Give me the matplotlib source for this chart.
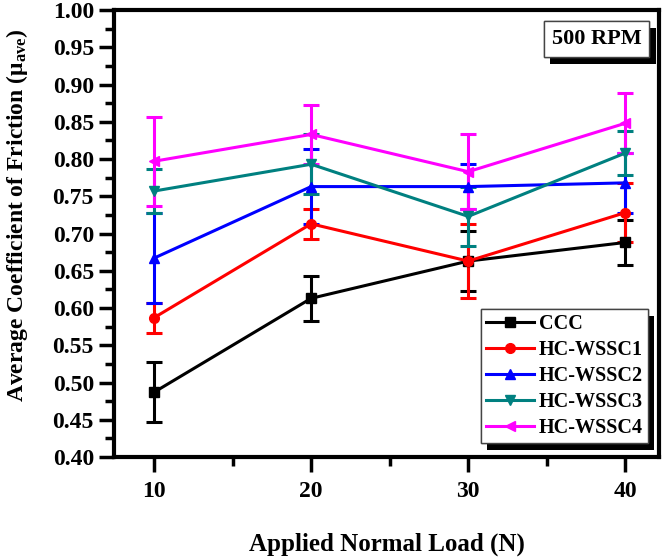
import matplotlib
matplotlib.use("Agg")
import matplotlib.pyplot as plt
import matplotlib.patheffects as pe
from matplotlib.ticker import MultipleLocator, FormatStrFormatter

plt.rcParams["font.family"] = ["Liberation Serif", "DejaVu Serif"]
plt.rcParams["font.weight"] = "bold"
plt.rcParams["mathtext.fontset"] = "custom"
plt.rcParams["mathtext.rm"] = "Liberation Serif:bold"
plt.rcParams["mathtext.it"] = "Liberation Serif:bold"

loads = [10, 20, 30, 40]
labels = ["CCC", "HC-WSSC1", "HC-WSSC2", "HC-WSSC3", "HC-WSSC4"]
ccc = [0.487, 0.613, 0.663, 0.688]
ccc_err = [0.040, 0.030, 0.040, 0.030]
wssc1 = [0.587, 0.713, 0.663, 0.728]
wssc1_err = [0.020, 0.020, 0.050, 0.040]
wssc2 = [0.667, 0.763, 0.763, 0.768]
wssc2_err = [0.060, 0.050, 0.030, 0.040]
wssc3 = [0.757, 0.793, 0.723, 0.808]
wssc3_err = [0.030, 0.040, 0.040, 0.030]
wssc4 = [0.797, 0.833, 0.783, 0.848]
wssc4_err = [0.060, 0.040, 0.050, 0.040]

series = [ccc, wssc1, wssc2, wssc3, wssc4]
errors = [ccc_err, wssc1_err, wssc2_err, wssc3_err, wssc4_err]
colors = ["black", "red", "blue", "#008080", "magenta"]
markers = ["s", "o", "^", "v", "<"]

fig = plt.figure(figsize=(6.68, 5.57), dpi=100)
ax = fig.add_axes([0.1707, 0.1795, 0.8159, 0.8025])

handles = []
for y, e, c, m, lab in zip(series, errors, colors, markers, labels):
    cont = ax.errorbar(loads, y, yerr=e, color=c, marker=m, markersize=7,
                       linewidth=2.2, elinewidth=2.2, capsize=6, capthick=2.2,
                       label=lab)
    handles.append(cont.lines[0])

ax.set_xlim(7.45, 42.15)
ax.set_ylim(0.40, 1.00)
ax.set_xticks(loads)
ax.xaxis.set_minor_locator(MultipleLocator(5))
ax.yaxis.set_major_locator(MultipleLocator(0.05))
ax.yaxis.set_minor_locator(MultipleLocator(0.025))
ax.yaxis.set_major_formatter(FormatStrFormatter("%.2f"))

for s in ax.spines.values():
    s.set_linewidth(3)
ax.tick_params(which="both", direction="out", width=2.5, labelsize=17)
ax.tick_params(which="major", length=11)
ax.tick_params(which="minor", length=6.5)
ax.tick_params(axis="x", pad=6)
for t in ax.get_xticklabels() + ax.get_yticklabels():
    t.set_fontweight("bold")

ax.set_xlabel("Applied Normal Load (N)", fontsize=18, fontweight="bold")
ax.xaxis.set_label_coords(0.5, -0.168)
ax.set_ylabel(r"Average Coefficient of Friction ($\mu_{\mathrm{ave}}$)",
              fontsize=17, fontweight="bold")
ax.yaxis.set_label_coords(-0.154, 0.54)

# black drop shadow behind the boxed annotations
shadow = [pe.withSimplePatchShadow(offset=(4.5, -5), shadow_rgbFace="black",
                                   alpha=1), pe.Normal()]

rpm = ax.text(0.968, 0.958, "500 RPM", transform=ax.transAxes, ha="right",
              va="top", fontsize=16, fontweight="bold",
              bbox=dict(boxstyle="square,pad=0.35", facecolor="white",
                        edgecolor="#444444", linewidth=1))
rpm.get_bbox_patch().set_path_effects(shadow)

leg = ax.legend(handles=handles, labels=labels, loc="lower right",
                bbox_to_anchor=(0.980, 0.031), borderaxespad=0,
                fontsize=14.5, fancybox=False, edgecolor="#444444",
                framealpha=1, handlelength=2.4, handletextpad=0.25,
                labelspacing=0.3, borderpad=0.25, numpoints=1)
leg.get_frame().set_linewidth(1)
leg.get_frame().set_path_effects(shadow)
for t in leg.get_texts():
    t.set_fontweight("bold")

fig.savefig("out.png", dpi=100)
